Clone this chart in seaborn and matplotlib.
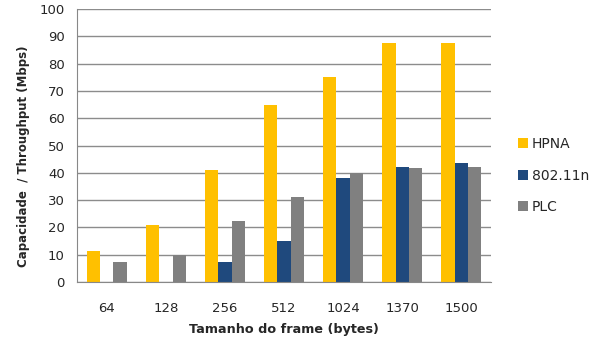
import pandas as pd
import matplotlib
matplotlib.use('Agg')
import matplotlib.pyplot as plt
import seaborn as sns
from matplotlib.ticker import FixedLocator

frames = ['64', '128', '256', '512', '1024', '1370', '1500']
hpna = [11.5, 21, 41, 65, 75, 87.5, 87.5]
wifi = [0, 0, 7.5, 15, 38, 42.2, 43.5]
plc = [7.3, 10, 22.3, 31.3, 40, 41.7, 42.2]
series = ['HPNA', '802.11n', 'PLC']

total = pd.DataFrame({
    'frame': frames * 3,
    'tech': [s for s in series for _ in frames],
    'value': hpna + wifi + plc,
})

palette = {
    'HPNA': '#FFC000',
    '802.11n': '#1F497D',
    'PLC': '#808080',
}

sns.set_style('white')
plt.rcParams['font.family'] = ['DejaVu Sans']

fig = plt.figure(figsize=(5.98, 3.44), dpi=100)
ax = fig.add_axes([0.129, 0.180, 0.692, 0.794])

sns.barplot(x='frame', y='value', hue='tech', data=total, palette=palette,
            ax=ax, width=0.68, saturation=1, order=frames, hue_order=series,
            linewidth=0)

ax.set_ylim(0, 100)
ax.set_xlim(-0.5, len(frames) - 0.5)
ax.set_yticks(range(0, 101, 10))
ax.xaxis.set_minor_locator(FixedLocator([i - 0.5 for i in range(len(frames) + 1)]))
ax.tick_params(axis='x', which='major', length=0, pad=14, labelsize=9.5)
ax.tick_params(axis='x', which='minor', length=5, color='#888888', width=1)
ax.tick_params(axis='y', which='major', length=5, color='#888888', labelsize=9.5, pad=4)
ax.grid(True, axis='y', color='#8C8C8C', linewidth=1)
ax.set_axisbelow(True)
for side in ['left', 'bottom']:
    ax.spines[side].set_color('#888888')
ax.spines['top'].set_visible(False)
ax.spines['right'].set_visible(False)

ax.set_xlabel('Tamanho do frame (bytes)', fontsize=9.2, fontweight='bold', labelpad=6)
ax.set_ylabel('Capacidade  / Throughput (Mbps)', fontsize=8.5, fontweight='bold')
ax.yaxis.set_label_coords(-0.115, 0.46)

ax.legend(title=None, frameon=False, loc='center left', bbox_to_anchor=(1.035, 0.39),
          fontsize=10, handlelength=0.7, handleheight=0.7, handletextpad=0.3,
          labelspacing=1.25)

fig.savefig('out.png', dpi=100)
